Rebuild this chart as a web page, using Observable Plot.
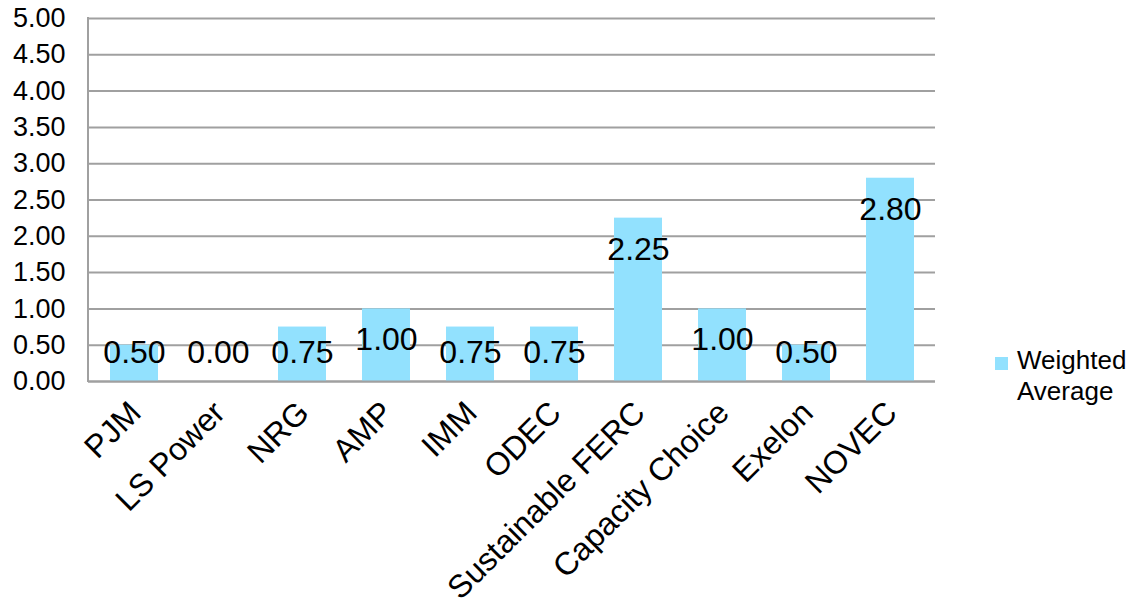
<!DOCTYPE html>
<html>
<head>
<meta charset="utf-8">
<script src="https://cdn.jsdelivr.net/npm/d3@7"></script>
<script src="https://cdn.jsdelivr.net/npm/@observablehq/plot@0.6"></script>
<style>
  html, body { margin: 0; padding: 0; background: #fff; }
  body { font-family: "Liberation Sans", Arial, sans-serif; }
  #wrap { position: relative; width: 1127px; height: 608px; }
  #legend { position: absolute; left: 995px; top: 345px; font-size: 26px; color: #000; line-height: 31px; display: flex; align-items: flex-start; }
  #legend .sw { width: 13px; height: 13px; background: #92E1FE; margin-top: 12px; margin-right: 9px; flex: none; }
</style>
</head>
<body>
<div id="wrap"></div>
<script>
const categories = ["PJM", "LS Power", "NRG", "AMP", "IMM", "ODEC", "Sustainable FERC", "Capacity Choice", "Exelon", "NOVEC"];
const weightedAverage = [0.50, 0.00, 0.75, 1.00, 0.75, 0.75, 2.25, 1.00, 0.50, 2.80];
const yTicks = [0, 0.5, 1, 1.5, 2, 2.5, 3, 3.5, 4, 4.5, 5];
const seriesName = "Weighted Average";

const data = categories.map((c, i) => ({category: c, value: weightedAverage[i]}));
const barColor = "#92E1FE";

const chart = Plot.plot({
  width: 1127,
  height: 608,
  marginLeft: 88,
  marginRight: 192,
  marginTop: 18,
  marginBottom: 227,
  style: {fontFamily: "'Liberation Sans', Arial, sans-serif", fontSize: "26px", color: "#000", background: "#fff"},
  x: {domain: categories, paddingInner: 0.43, paddingOuter: 0.215, align: 0.5, label: null},
  y: {domain: [0, 5], label: null},
  marks: [
    Plot.ruleY(yTicks, {stroke: "#a0a0a0", strokeWidth: 2}),
    Plot.barY(data, {x: "category", y: "value", fill: barColor}),
    Plot.ruleY([0], {stroke: "#a0a0a0", strokeWidth: 2}),
    Plot.axisY({ticks: yTicks, tickFormat: d => d.toFixed(2), tickSize: 0, tickPadding: 23, fontSize: 27}),
    Plot.axisX({tickSize: 0, tickRotate: -45, tickPadding: 26, dx: 1, fontSize: 32}),
    Plot.text(data, {x: "category", y: d => Math.max(d.value - 0.43, 0.40), text: d => d.value.toFixed(2), fontSize: 32, fill: "#000"})
  ]
});

// left vertical axis line
const svg = d3.select(chart);
svg.append("line")
  .attr("x1", 88).attr("x2", 88).attr("y1", 17).attr("y2", 382)
  .attr("stroke", "#a0a0a0").attr("stroke-width", 2);

document.getElementById("wrap").appendChild(chart);
const legend = document.createElement("div");
legend.id = "legend";
legend.innerHTML = `<div class="sw"></div><div>Weighted<br>Average</div>`;
document.getElementById("wrap").appendChild(legend);
</script>
</body>
</html>
